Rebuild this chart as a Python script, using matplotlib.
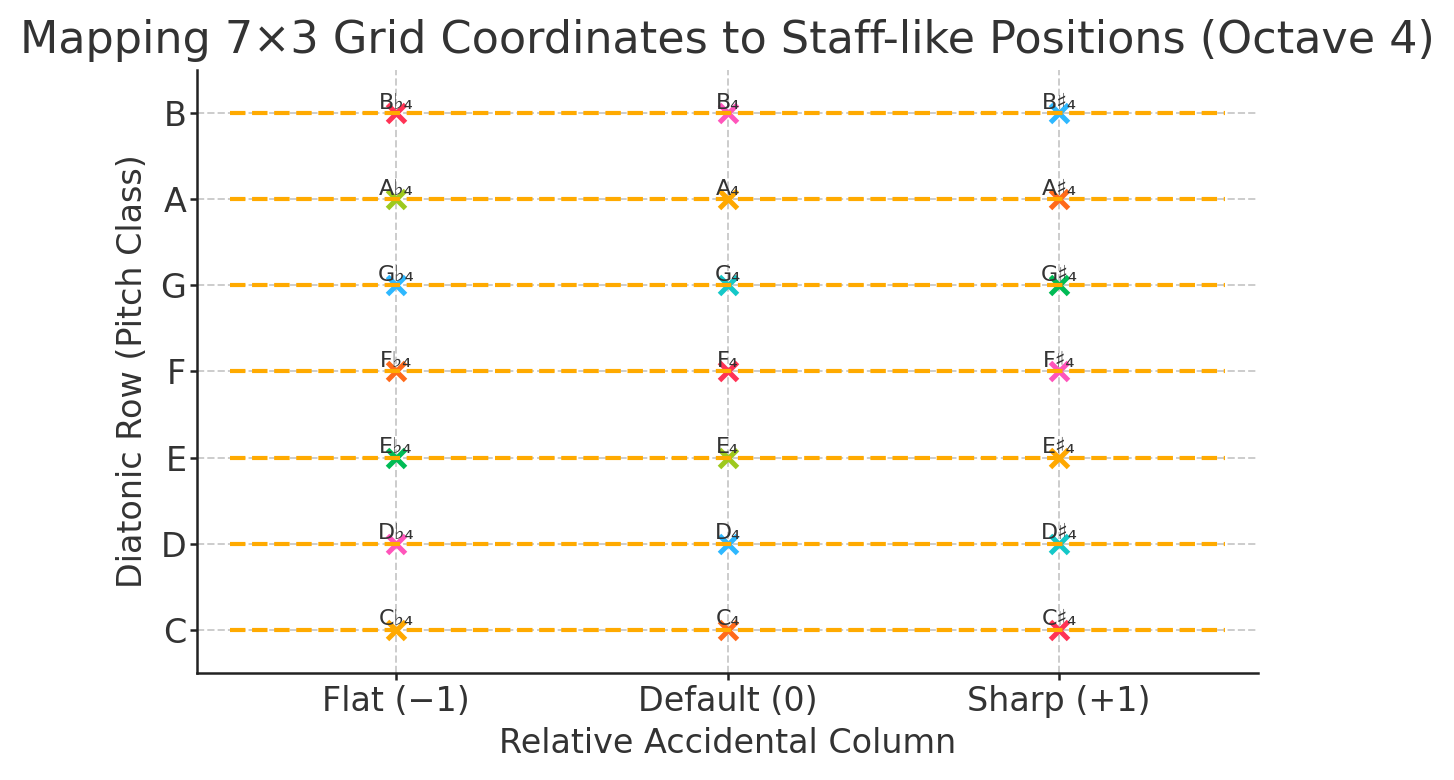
import matplotlib
matplotlib.use("Agg")
import matplotlib.pyplot as plt

# Data
rows = ["C", "D", "E", "F", "G", "A", "B"]
columns = ["Flat (−1)", "Default (0)", "Sharp (+1)"]
column_offsets = [-1, 0, 1]
accidentals = ["♭", "", "♯"]
octave_sub = "₄"
line_extent = [-1.5, 1.5]
palette = ["#FFA800", "#FF6A1A", "#FF3355", "#FF55BB",
           "#2EB8FF", "#14C8C8", "#00BB55", "#9DC91E"]

TEXT = "#333333"
plt.rcParams["font.family"] = ["DejaVu Sans"]
plt.rcParams["text.color"] = TEXT
plt.rcParams["axes.labelcolor"] = TEXT
plt.rcParams["xtick.color"] = TEXT
plt.rcParams["ytick.color"] = TEXT

fig = plt.figure(figsize=(7.27, 3.9), dpi=200)
ax = fig.add_axes([0.1355, 0.1372, 0.8652 - 0.1355, 0.9103 - 0.1372])

k = 0
for r, note in enumerate(rows):
    for c, off in enumerate(column_offsets):
        ax.plot(off, r, marker="x", linestyle="none", color=palette[k % len(palette)],
                markersize=6.5, markeredgewidth=1.8, zorder=3)
        ax.annotate(f"{note}{accidentals[c]}{octave_sub}", (off, r),
                    xytext=(0, 1.6), textcoords="offset points",
                    ha="center", va="baseline", fontsize=8, color=TEXT, zorder=5)
        k += 1
    ax.plot(line_extent, [r, r], linestyle="--", color="#FFAA00", linewidth=1.5,
            zorder=4)

ax.set_xlim(-1.6, 1.6)
ax.set_ylim(-0.5, 6.5)
ax.set_xticks(column_offsets)
ax.set_xticklabels(columns, fontsize=12)
ax.set_yticks(range(len(rows)))
ax.set_yticklabels(rows, fontsize=12)
ax.set_xlabel("Relative Accidental Column", fontsize=12, labelpad=3)
ax.set_ylabel("Diatonic Row (Pitch Class)", fontsize=12, labelpad=4)
ax.set_title("Mapping 7×3 Grid Coordinates to Staff-like Positions (Octave 4)",
             fontsize=16, color=TEXT, pad=6)
ax.grid(True, linestyle="--", color="#cccccc", linewidth=0.7, zorder=0)
ax.set_axisbelow(True)
for s in ["top", "right"]:
    ax.spines[s].set_visible(False)
for s in ["left", "bottom"]:
    ax.spines[s].set_color("#222222")
    ax.spines[s].set_linewidth(0.9)
ax.tick_params(length=2.6, width=0.9, colors="#222222", labelcolor=TEXT)
ax.tick_params(axis="x", pad=1.8)
ax.tick_params(axis="y", pad=1.2)

fig.savefig("out.png", dpi=200)
